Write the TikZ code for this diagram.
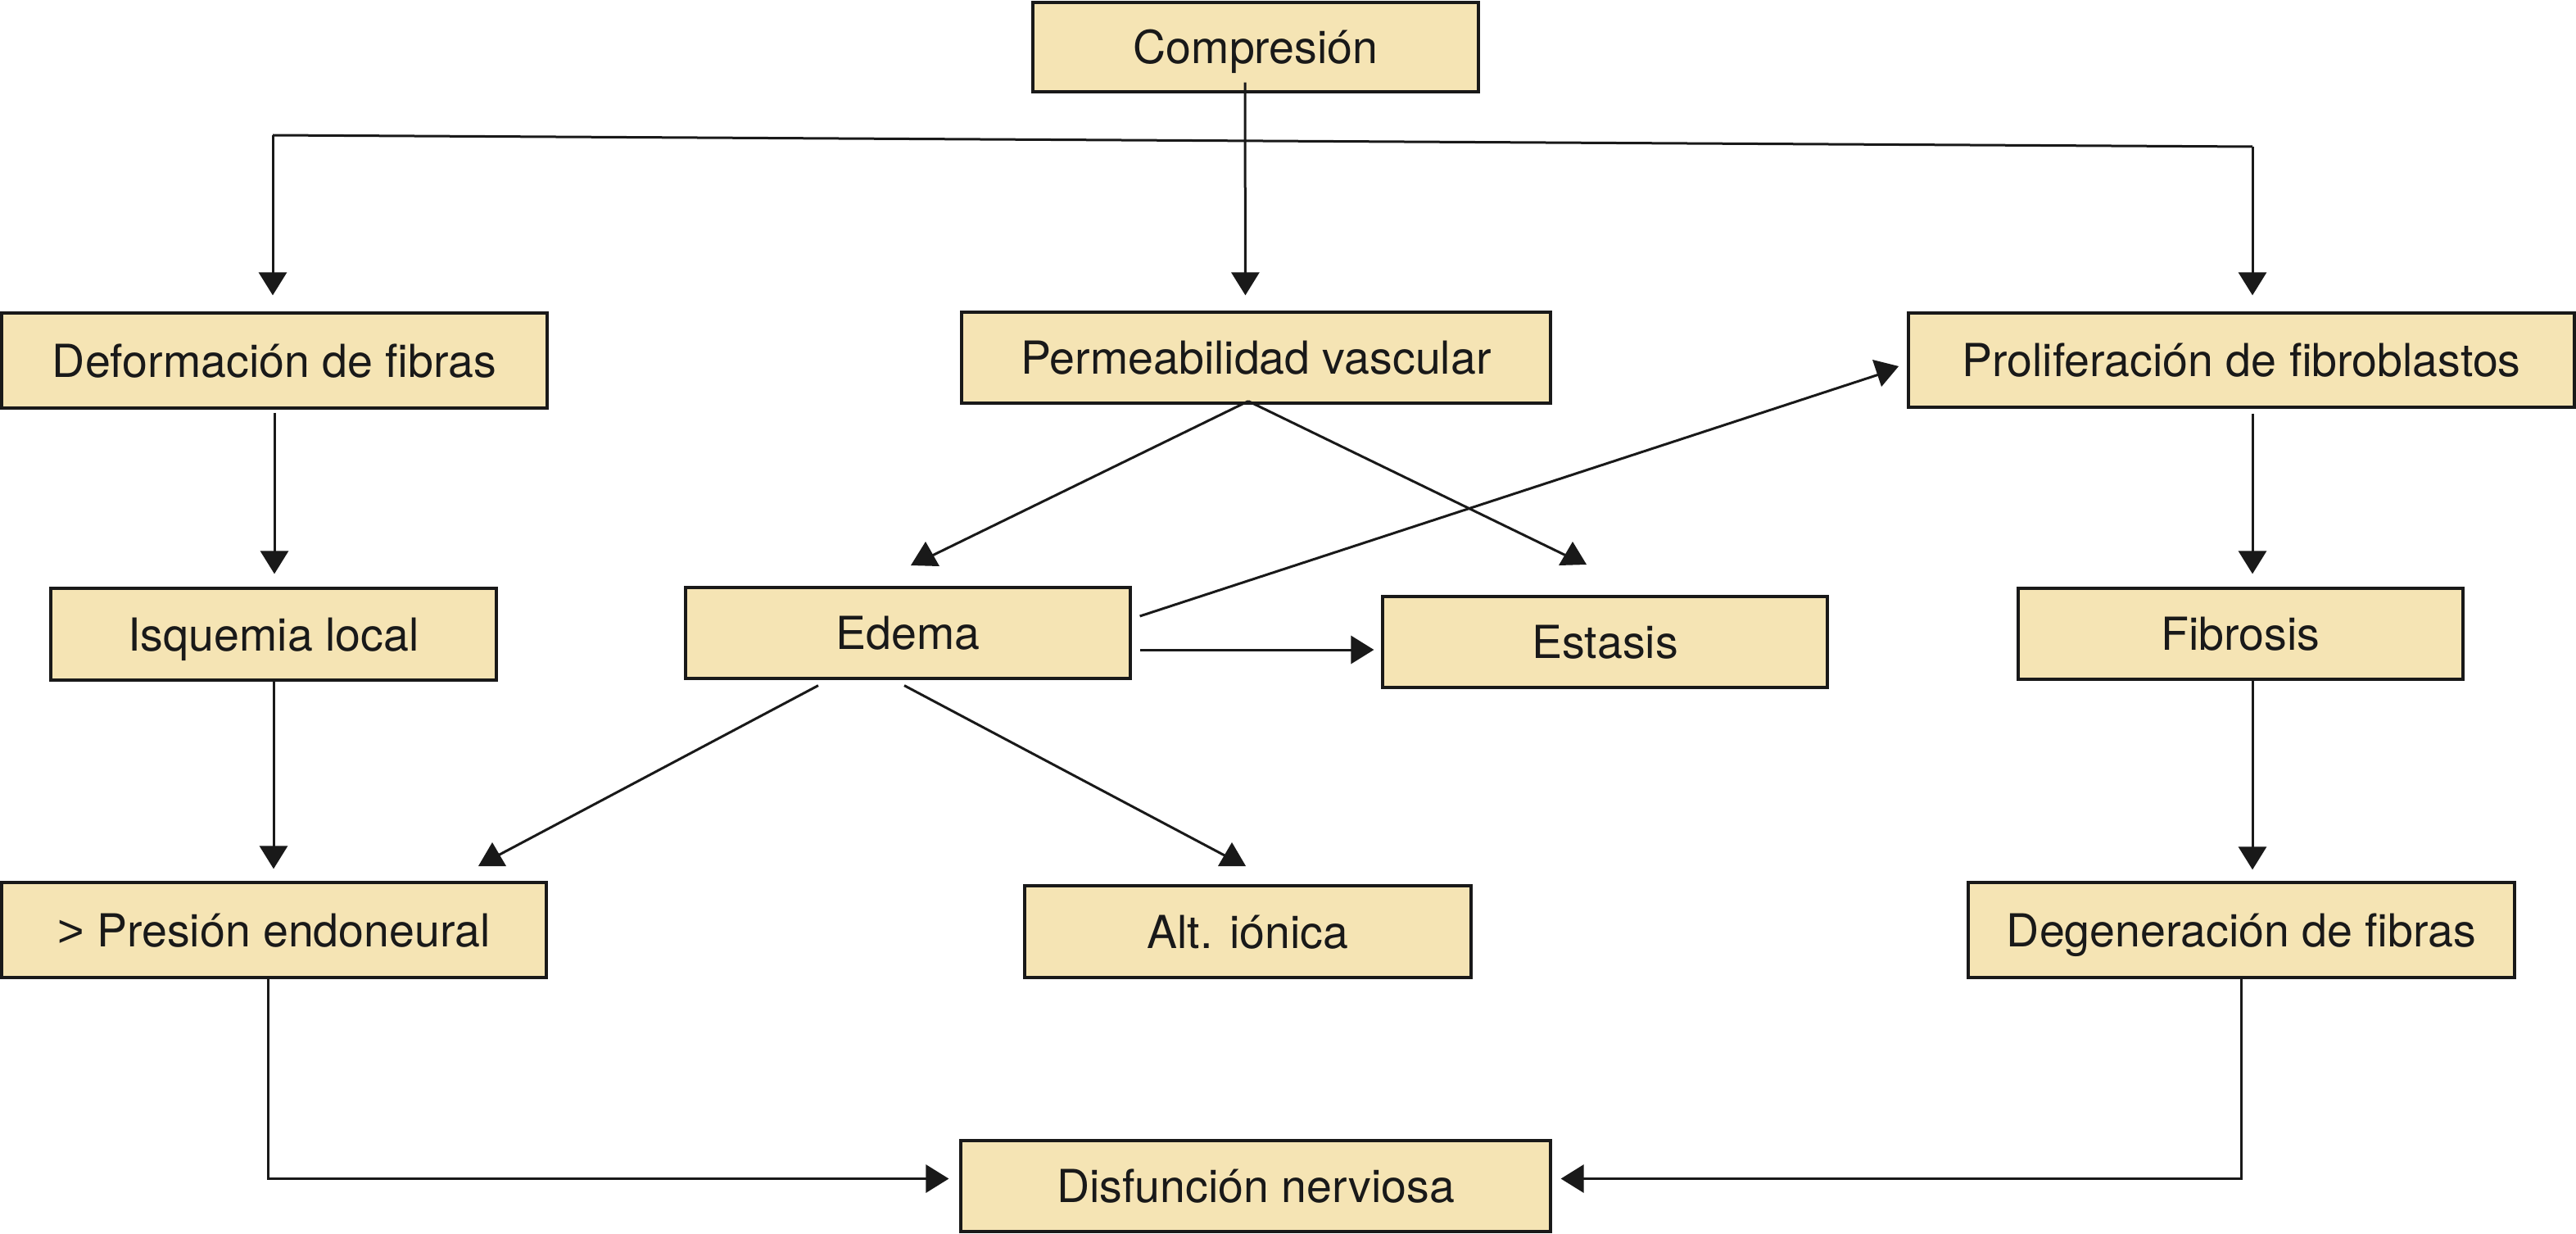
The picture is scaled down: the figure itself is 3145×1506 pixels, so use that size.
\documentclass[tikz,border=0pt]{standalone}
\usepackage{fontspec}
\setmainfont{TeX Gyre Heros}
\newfontfamily\gtfont{Liberation Sans}
\usetikzlibrary{arrows.meta,calc}
\definecolor{boxfill}{RGB}{245,228,180}
\definecolor{ink}{RGB}{25,25,25}
\begin{document}
\begin{tikzpicture}[x=1pt,y=-1pt,
  box/.style={draw=ink,line width=3.2pt,fill=boxfill,inner sep=0pt,
    text height=40pt,text depth=0pt,text=ink,
    font=\fontsize{55.5}{66}\selectfont},
  arr/.style={draw=ink,line width=3pt,-{Triangle[length=28pt,width=34pt]}},
  conn/.style={draw=ink,line width=3pt},
  head/.style={fill=ink}]
\useasboundingbox (0,0) rectangle (3145,1506);
% boxes
\node[box,minimum width=544pt,minimum height=109pt] (comp) at (1533,57.5) {Compresión};
\node[box,minimum width=666pt,minimum height=116pt] (defo) at (335,440) {Deformación de fibras};
\node[box,minimum width=719pt,minimum height=111pt] (perm) at (1533.5,436.5) {Permeabilidad vascular};
\node[box,minimum width=813pt,minimum height=115pt] (prol) at (2736.5,439.5) {Proliferación de fibroblastos};
\node[box,minimum width=544pt,minimum height=112pt] (isq) at (334,774) {Isquemia local};
\node[box,minimum width=543pt,minimum height=111pt] (edema) at (1108.5,772.5) {Edema};
\node[box,minimum width=543pt,minimum height=111pt] (estasis) at (1959.5,783.5) {Estasis};
\node[box,minimum width=543pt,minimum height=111pt] (fib) at (2735.5,773.5) {Fibrosis};
\node[box,minimum width=665pt,minimum height=116pt] (pres) at (334.5,1135) {{\gtfont >} Presión endoneural};
\node[box,minimum width=545pt,minimum height=112pt] (alt) at (1523.5,1137) {Alt. iónica};
\node[box,minimum width=667pt,minimum height=116pt] (degen) at (2736.5,1135) {Degeneración de fibras};
\node[box,minimum width=720pt,minimum height=111pt] (disf) at (1533,1447.5) {Disfunción nerviosa};
% top distribution line
\coordinate (tl) at (333,165);
\coordinate (tr) at (2750,179);
\draw[conn] (tl) -- (tr);
\draw[arr,shorten >=20pt] (tl) -- (tl |- defo.north);
\draw[arr,shorten >=20pt] (tr) -- (tr |- prol.north);
\draw[arr,shorten >=19pt] ([xshift=-13pt,yshift=13pt]comp.south) -- ([xshift=-13pt]perm.north);
% vertical chains
\draw[arr,shorten <=4pt,shorten >=16pt] (defo.south) -- (defo.south |- isq.north);
\draw[arr,shorten >=15pt] (isq.south) -- (isq.south |- pres.north);
\draw[arr,shorten <=6pt,shorten >=16pt] ([xshift=13.5pt]prol.south) -- ([xshift=13.5pt]prol.south |- fib.north);
\draw[arr,shorten >=14pt] ([xshift=14.5pt]fib.south) -- ([xshift=14.5pt]fib.south |- degen.north);
% edema -> estasis
\path ([xshift=10pt,yshift=-20.5pt]edema.east) coordinate (ee);
\draw[arr,shorten >=9pt] (ee) -- (ee -| estasis.west);
% to disfuncion
\draw[arr,shorten >=13pt] ([xshift=-7.5pt]pres.south) |- ([yshift=9pt]disf.west);
\draw[arr,shorten >=11pt] (degen.south) |- ([yshift=9pt]disf.east);
% diagonal connectors with upright heads
\path ([xshift=-9.5pt,yshift=4pt]perm.south) coordinate (pA);
\coordinate (h1) at (1130,661);
\coordinate (h2) at (1920,661);
\coordinate (h3) at (601,1028);
\coordinate (h4) at (1504,1028);
\coordinate (h5) at (2318,447);
\draw[conn] (pA) -- ($(h1)+(4,19)$);
\fill[head] (h1) -- ++(-18,29) -- ++(35,1) -- cycle;
\draw[conn] (pA) -- ($(h2)+(-6,18)$);
\fill[head] (h2) -- ++(-17,29) -- ++(34,-1) -- cycle;
\draw[conn] ([xshift=-109.5pt,yshift=-7pt]edema.south) -- ($(h3)+(5,17)$);
\fill[head] (h3) -- ++(-17,29) -- ++(34,0) -- cycle;
\draw[conn] ([xshift=-4.5pt,yshift=-7pt]edema.south) -- ($(h4)+(-7,17)$);
\fill[head] (h4) -- ++(-17,29) -- ++(34,0) -- cycle;
\draw[conn] ([xshift=10pt,yshift=20.5pt]edema.east) -- ($(h5)+(-24,10)$);
\fill[head] (h5) -- (2286,439) -- (2297,472) -- cycle;
\end{tikzpicture}
\end{document}
